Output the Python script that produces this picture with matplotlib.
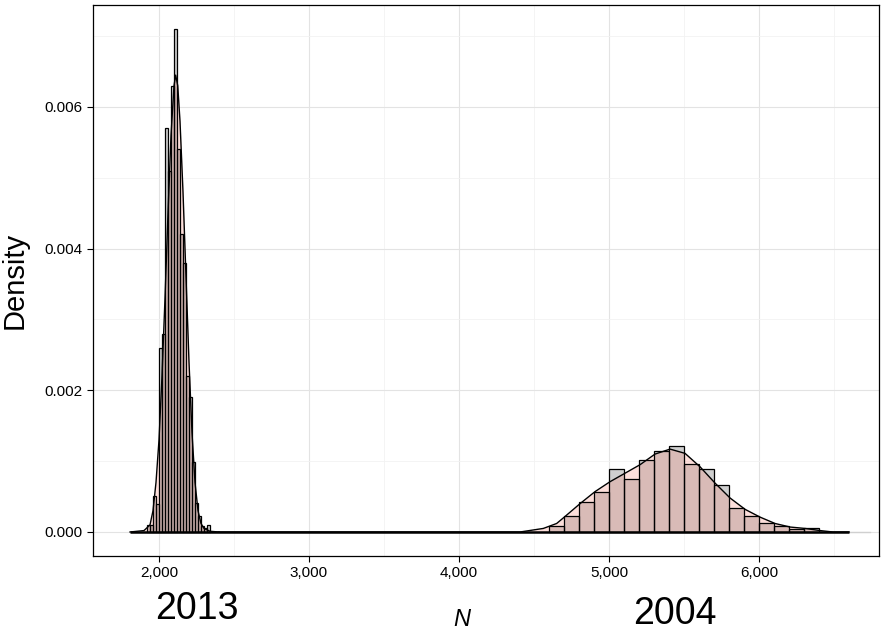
import matplotlib
matplotlib.use("Agg")
import matplotlib.pyplot as plt
import numpy as np
from matplotlib.ticker import MultipleLocator, FuncFormatter
from matplotlib import font_manager
import matplotlib.transforms as mtrans

# ---- data ----
# 2013 survey: histogram (bin width 20)
bins13_left = [1920 + 20 * i for i in range(21)]
bins13_width = 20
dens13_hist = [0.0001, 0.0001, 0.00051, 0.0004, 0.0026, 0.0028, 0.0057, 0.0051,
               0.0063, 0.0071, 0.0054, 0.0042, 0.0038, 0.0022, 0.0019, 0.00099,
               0.00041, 0.00022, 0.00009, 0.00005, 0.0001]
# 2013 density curve
curve13_x = [1807, 1900, 1940, 1960, 1980, 2000, 2020, 2040, 2060, 2080, 2100, 2111,
             2125, 2140, 2160, 2180, 2200, 2220, 2240, 2260, 2280, 2300, 2340, 2400]
curve13_y = [0, 0.00002, 0.0001, 0.0003, 0.0007, 0.0013, 0.0022, 0.0033, 0.0045,
             0.0056, 0.0063, 0.00645, 0.0063, 0.0058, 0.0048, 0.0036, 0.0024, 0.0014,
             0.0007, 0.0003, 0.00012, 0.00005, 0.00001, 0]

# 2004 survey: histogram (bin width 100)
bins04_left = [4600 + 100 * i for i in range(18)]
bins04_width = 100
dens04_hist = [0.00008, 0.000226, 0.00043, 0.000565, 0.000885, 0.000744, 0.00101,
               0.00114, 0.00122, 0.000965, 0.000885, 0.00067, 0.000344, 0.000226,
               0.000127, 0.000085, 0.00004, 0.00006]
# 2004 density curve
curve04_x = [2400, 4407, 4562, 4651, 4702, 4807, 4907, 5007, 5107, 5207, 5307, 5407,
             5507, 5607, 5707, 5807, 5907, 6007, 6107, 6207, 6307, 6407, 6493, 6600]
curve04_y = [0, 0, 0.00005, 0.00012, 0.00021, 0.0004, 0.00057, 0.00071, 0.00083,
             0.00095, 0.0011, 0.00117, 0.00111, 0.00092, 0.00069, 0.00048, 0.00032,
             0.00021, 0.00012, 0.00007, 0.00005, 0.00002, 0, 0]

year_labels = ["2013", "2004"]
year_label_x = [2253, 5440]
x_label = "N"
y_label = "Density"

# ---- fonts ----
avail = {f.name for f in font_manager.fontManager.ttflist}
def pick(*names):
    for n in names:
        if n in avail:
            return n
    return "DejaVu Sans"
narrow = pick("Liberation Sans Narrow", "DejaVu Sans Condensed", "Liberation Sans")
regular = pick("Liberation Sans", "DejaVu Sans")

fig = plt.figure(figsize=(8.81, 6.34), dpi=100)
ax = fig.add_axes([93 / 881, 1 - 556 / 634, (879 - 93) / 881, (556 - 5) / 634])

hist_fill = "#cfcfcf"
dens_fill = (250 / 255, 128 / 255, 114 / 255, 0.25)

for left, h, w in [(bins13_left, dens13_hist, bins13_width), (bins04_left, dens04_hist, bins04_width)]:
    ax.bar(left, h, width=w, align="edge", color=hist_fill, edgecolor="none", zorder=2)

ax.fill_between(curve13_x, curve13_y, color=dens_fill, lw=0, zorder=3)
ax.fill_between(curve04_x, curve04_y, color=dens_fill, lw=0, zorder=3)

for left, h, w in [(bins13_left, dens13_hist, bins13_width), (bins04_left, dens04_hist, bins04_width)]:
    ax.bar(left, h, width=w, align="edge", fill=False, edgecolor="black", linewidth=0.9, zorder=4)

ax.plot(curve13_x, curve13_y, color="black", lw=1.0, zorder=5)
ax.plot(curve04_x, curve04_y, color="black", lw=1.0, zorder=5)
ax.plot([curve13_x[0], curve04_x[-1]], [0, 0], color="black", lw=1.8, zorder=5,
        solid_capstyle="butt")
ax.plot([6600, 6740], [0, 0], color="#d0d0d0", lw=1.0, zorder=1)

ax.set_xlim(1560, 6800)
ax.set_ylim(-0.000339, 0.00744)

ax.xaxis.set_major_locator(MultipleLocator(1000))
ax.xaxis.set_minor_locator(MultipleLocator(500))
ax.yaxis.set_major_locator(MultipleLocator(0.002))
ax.yaxis.set_minor_locator(MultipleLocator(0.001))
ax.xaxis.set_major_formatter(FuncFormatter(lambda v, p: f"{int(v):,}"))
ax.yaxis.set_major_formatter(FuncFormatter(lambda v, p: f"{v:.3f}"))

ax.grid(which="major", color="#e3e3e3", lw=0.8, zorder=0)
ax.grid(which="minor", color="#f2f2f2", lw=0.6, zorder=0)
ax.set_axisbelow(True)
ax.tick_params(which="major", direction="out", length=4, width=0.8, colors="black", labelsize=11)
ax.tick_params(which="minor", length=0)
for lab in ax.get_yticklabels():
    lab.set_fontfamily(regular)
for lab in ax.get_xticklabels():
    lab.set_fontfamily(narrow)
    lab.set_fontsize(11)
for s in ax.spines.values():
    s.set_color("black")
    s.set_linewidth(0.9)

ax.set_ylabel(y_label, fontsize=21, fontfamily=narrow)
ax.yaxis.set_label_coords(-0.082, 0.5)

tr = mtrans.blended_transform_factory(ax.transData, fig.transFigure)
ax.text(year_label_x[0], 1 - 609 / 634, year_labels[0], transform=tr, ha="center", va="center",
        fontsize=27, fontfamily=narrow, clip_on=False)
ax.text(year_label_x[1], 1 - 614 / 634, year_labels[1], transform=tr, ha="center", va="center",
        fontsize=27, fontfamily=narrow, clip_on=False)
ax.text(4020, 1 - 619 / 634, x_label, transform=tr, ha="center", va="center",
        fontsize=17, fontstyle="italic", fontfamily=narrow, clip_on=False)

fig.savefig("out.png", dpi=100)
